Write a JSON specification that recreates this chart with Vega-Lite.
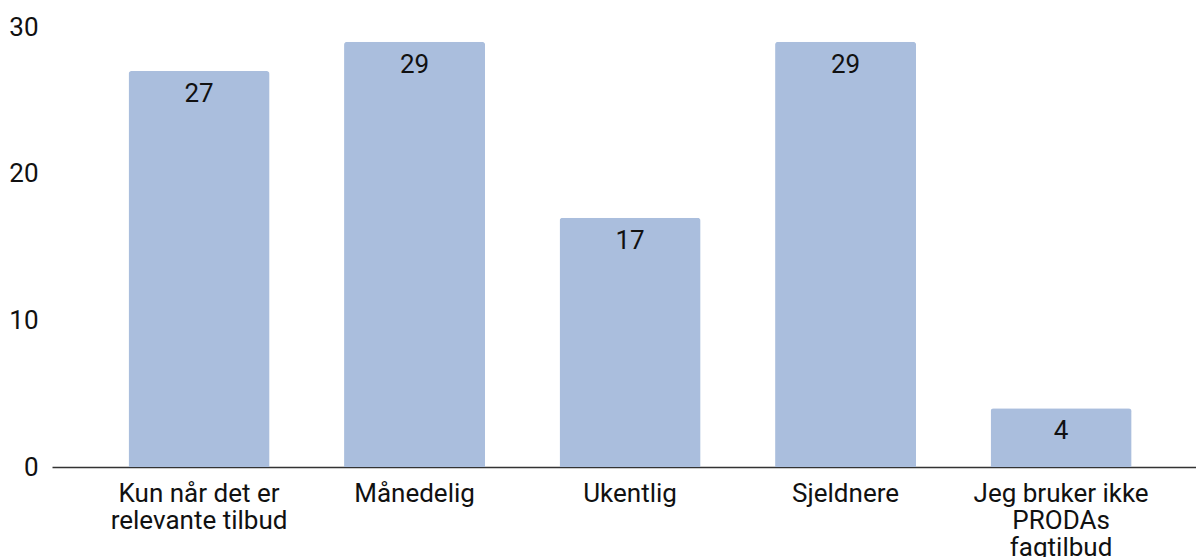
{
  "$schema": "https://vega.github.io/schema/vega-lite/v6.json",
  "width": 1144,
  "height": 440,
  "autosize": {"type": "none"},
  "padding": {"left": 52, "top": 27, "right": 0, "bottom": 90},
  "config": {
    "view": {"stroke": null},
    "font": "Roboto",
    "axis": {"labelFont": "Roboto", "labelFontSize": 26, "labelColor": "#111111"}
  },
  "data": {
    "values": [
      {"kategori": "Kun når det er relevante tilbud", "antall": 27},
      {"kategori": "Månedelig", "antall": 29},
      {"kategori": "Ukentlig", "antall": 17},
      {"kategori": "Sjeldnere", "antall": 29},
      {"kategori": "Jeg bruker ikke PRODAs fagtilbud", "antall": 4}
    ]
  },
  "encoding": {
    "x": {
      "field": "kategori",
      "type": "nominal",
      "sort": null,
      "scale": {"paddingInner": 0.3457, "paddingOuter": 0.327, "align": 0.543},
      "axis": {
        "title": null,
        "labelAngle": 0,
        "ticks": false,
        "domainColor": "#333333",
        "domainWidth": 1.5,
        "labelPadding": 13,
        "labelLineHeight": 27,
        "labelLimit": 0,
        "labelExpr": "datum.label == 'Kun når det er relevante tilbud' ? ['Kun når det er', 'relevante tilbud'] : datum.label == 'Jeg bruker ikke PRODAs fagtilbud' ? ['Jeg bruker ikke', 'PRODAs', 'fagtilbud'] : datum.label"
      }
    },
    "y": {
      "field": "antall",
      "type": "quantitative",
      "scale": {"domain": [0, 30], "nice": false},
      "axis": {
        "title": null,
        "values": [0, 10, 20, 30],
        "grid": false,
        "domain": false,
        "ticks": false,
        "labelPadding": 14
      }
    }
  },
  "layer": [
    {
      "mark": {"type": "bar", "color": "#aabedd", "cornerRadiusTopLeft": 3, "cornerRadiusTopRight": 3}
    },
    {
      "mark": {"type": "text", "baseline": "middle", "dy": 23, "fontSize": 26, "font": "Roboto", "color": "#111111"},
      "encoding": {"text": {"field": "antall", "type": "quantitative"}}
    }
  ]
}
